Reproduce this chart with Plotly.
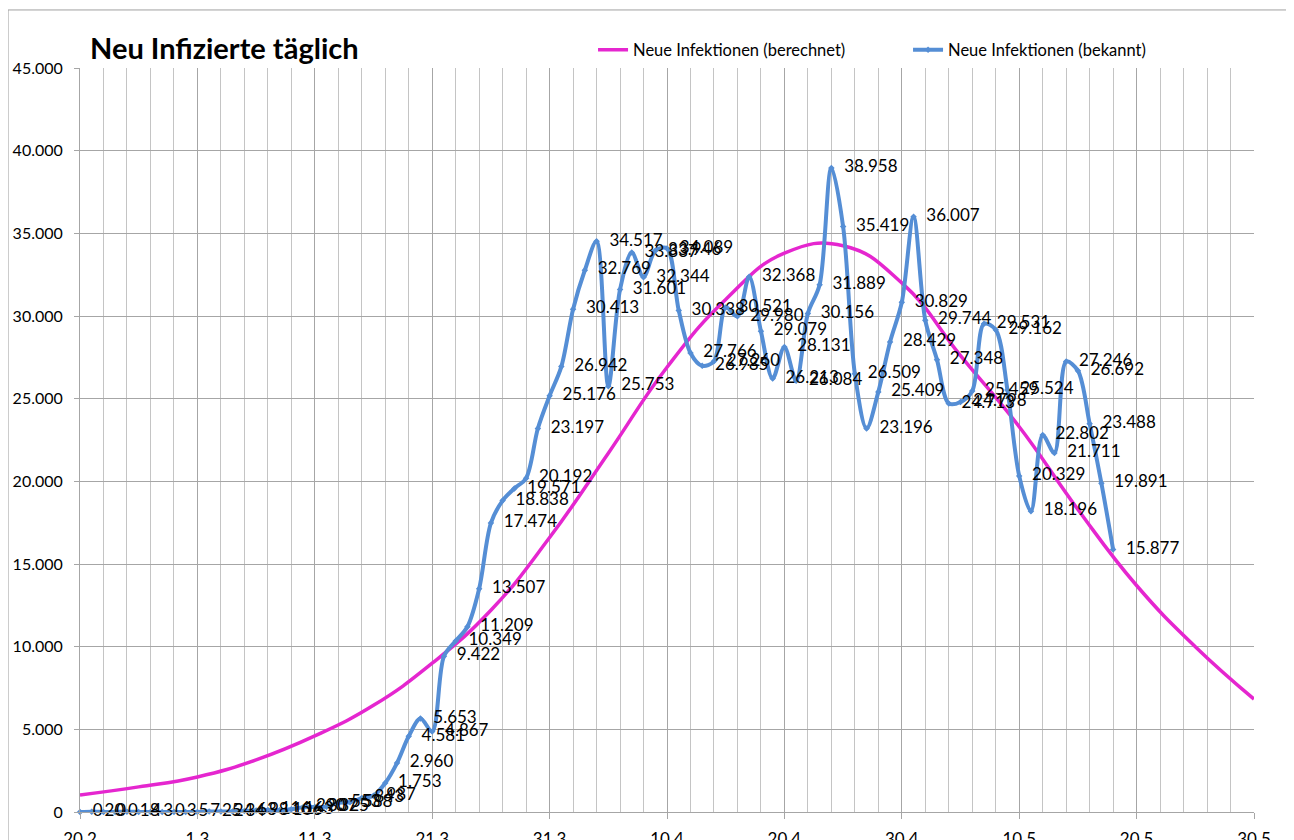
import pandas as pd
import plotly.graph_objects as go

# ---------------- data ----------------
start_date = "2020-02-20"

# Neue Infektionen (bekannt) – one value per day starting 20.2.
known_values = [
    0, 20, 0, 0, 18, 4, 3, 0, 3, 5,
    7, 25, 24, 34, 63, 98, 116, 106, 163, 290,
    307, 325, 553, 588, 843, 987, 1753, 2960, 4581, 5653,
    4867, 9422, 10349, 11209, 13507, 17474, 18838, 19571, 20192, 23197,
    25176, 26942, 30413, 32769, 34517, 25753, 31601, 33837, 32344, 33946,
    34089, 30338, 27766, 26985, 27260, 30521, 29980, 32368, 29079, 26213,
    28131, 26084, 30156, 31889, 38958, 35419, 26509, 23196, 25409, 28429,
    30829, 36007, 29744, 27348, 24713, 24798, 25459, 29531, 29162, 25524,
    20329, 18196, 22802, 21711, 27246, 26692, 23488, 19891, 15877,
]

# Neue Infektionen (berechnet) – read every 5 days from 20.2 to 30.5
calc_values = [
    1030, 1520, 2120, 3150, 4600, 6450, 9000, 12200, 16600, 21700,
    26900, 31000, 33800, 34250, 32000, 27600, 23300, 18300, 13700, 10000,
    6830,
]

tick_dates = ["2020-02-20", "2020-03-01", "2020-03-11", "2020-03-21", "2020-03-31",
              "2020-04-10", "2020-04-20", "2020-04-30", "2020-05-10", "2020-05-20",
              "2020-05-30"]
tick_labels = ["20.2", "1.3", "11.3", "21.3", "31.3", "10.4", "20.4", "30.4",
               "10.5", "20.5", "30.5"]

known_dates = pd.date_range(start_date, periods=len(known_values), freq="D")
calc_dates = pd.date_range(start_date, periods=len(calc_values), freq="5D")

PINK = "#E526CF"
BLUE = "#558ED5"
GRID = "#A6A6A6"
MINOR = "#C4C4C4"
FONT = "Lato"

fig = go.Figure()

fig.add_trace(go.Scatter(
    x=calc_dates, y=calc_values, mode="lines",
    name="Neue Infektionen (berechnet)",
    line=dict(color=PINK, width=3.5, shape="spline", smoothing=1.3),
    hoverinfo="skip",
))

fig.add_trace(go.Scatter(
    x=known_dates, y=known_values, mode="lines+markers+text",
    name="Neue Infektionen (bekannt)",
    line=dict(color=BLUE, width=4, shape="spline", smoothing=0.9),
    marker=dict(symbol="diamond", size=5, color=BLUE),
    texttemplate="\u00a0\u00a0%{y:,d}",
    textposition="middle right",
    textfont=dict(family=FONT, size=17, color="#000000"),
    cliponaxis=False,
))

fig.update_layout(
    width=1294, height=840,
    margin=dict(l=72, r=48, t=60, b=36, autoexpand=False),
    paper_bgcolor="white", plot_bgcolor="white",
    font=dict(family=FONT, size=16, color="#000000"),
    separators=",.",
    showlegend=True,
    legend=dict(
        orientation="h", x=0.437, xanchor="left", y=1.024, yanchor="middle",
        font=dict(family=FONT, size=16.5, color="#000000"),
        entrywidth=270, entrywidthmode="pixels",
        bgcolor="rgba(0,0,0,0)", itemwidth=30,
    ),
    annotations=[dict(
        text="<b>Neu Infizierte täglich</b>", xref="paper", yref="paper",
        x=0.0068, y=1.028, xanchor="left", yanchor="middle", showarrow=False,
        font=dict(family=FONT, size=29, color="#000000"),
    )],
    shapes=[dict(
        type="rect", xref="paper", yref="paper",
        x0=-0.0613, x1=1.0307, y0=-0.06, y1=1.078,
        line=dict(color="#A0A0A0", width=1), fillcolor="rgba(0,0,0,0)",
        layer="below",
    )],
)

fig.update_xaxes(
    type="date", range=["2020-02-20", "2020-05-30"],
    tickmode="array", tickvals=tick_dates, ticktext=tick_labels,
    showgrid=True, gridcolor=GRID, gridwidth=1,
    ticks="outside", ticklen=6, tickcolor=GRID,
    showline=True, linecolor=GRID, linewidth=1,
    zeroline=False, automargin=False,
    tickfont=dict(family=FONT, size=17, color="#000000"),
    ticklabelstandoff=6,
    minor=dict(dtick=2 * 86400000, tick0="2020-02-20", showgrid=True,
               gridcolor=MINOR, gridwidth=1, ticks=""),
)

fig.update_yaxes(
    range=[0, 45000], dtick=5000, tick0=0, tickformat=",d",
    showgrid=True, gridcolor=GRID, gridwidth=1,
    ticks="outside", ticklen=5, tickcolor=GRID,
    showline=True, linecolor=GRID, linewidth=1,
    zeroline=False, automargin=False,
    tickfont=dict(family=FONT, size=16, color="#000000"),
    ticklabelstandoff=8,
)

fig.write_html("out.html")
